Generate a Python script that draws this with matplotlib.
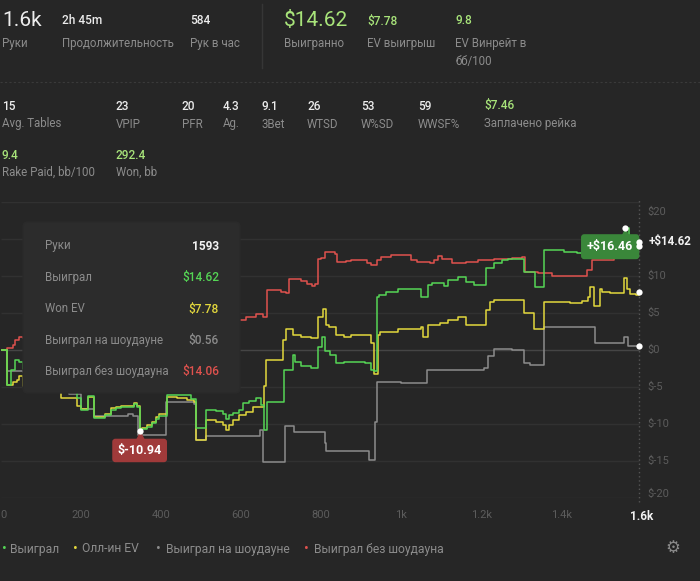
import matplotlib.pyplot as plt
import matplotlib.transforms as mtransforms
from matplotlib.patches import FancyBboxPatch
from matplotlib.lines import Line2D

plt.rcParams['font.family'] = ['Roboto', 'DejaVu Sans']

# --- data (hands played -> dollars) ---
green_hands = [0, 17, 25, 37, 45, 55, 120, 160, 190, 200, 218, 232, 260, 275, 288, 300, 333, 340,
               347, 352, 365, 378, 388, 395, 415, 475, 487, 512, 537, 555, 562, 570, 580, 595,
               605, 620, 637, 650, 657, 665, 708, 730, 735, 750, 775, 792, 803, 810, 822, 837,
               857, 910, 925, 932, 940, 945, 962, 992, 1050, 1067, 1075, 1107, 1117, 1142, 1162,
               1180, 1212, 1232, 1250, 1267, 1305, 1332, 1355, 1405, 1437, 1475, 1512, 1545,
               1558, 1567, 1582, 1593]
green_vals = [0.0, -4.7, -2.7, -1.35, -1.6, -2.5, -4.0, -5.5, -6.5, -8.1, -6.2, -9.2, -8.8, -8.1,
              -7.9, -7.7, -7.3, -7.7, -10.94, -10.7, -10.4, -9.9, -9.3, -8.9, -6.1, -6.6, -10.6,
              -8.1, -8.3, -8.6, -9.3, -8.8, -8.5, -8.1, -7.2, -6.9, -6.5, -7.4, -10.8, -7.0,
              -2.7, -0.7, -1.6, -2.2, -2.4, 0.4, 1.8, -0.2, -0.7, -1.8, -1.6, -1.7, -2.7, -2.9,
              7.2, 7.4, 7.8, 8.3, 7.2, 8.8, 9.0, 8.6, 9.5, 9.9, 9.2, 8.8, 11.1, 11.8, 12.2, 12.3,
              10.6, 8.5, 13.5, 13.3, 13.1, 13.4, 14.5, 15.2, 16.46, 14.9, 14.62, 14.62]

ev_hands = [0, 17, 30, 40, 45, 55, 100, 150, 190, 200, 218, 232, 260, 275, 288, 300, 333, 340,
            347, 352, 365, 378, 388, 395, 415, 440, 465, 482, 487, 512, 537, 555, 562, 570, 580,
            595, 612, 630, 657, 662, 705, 712, 730, 750, 775, 792, 805, 812, 820, 837, 857, 875,
            925, 932, 942, 947, 992, 1050, 1055, 1067, 1097, 1115, 1140, 1162, 1212, 1220, 1232,
            1250, 1305, 1330, 1355, 1420, 1450, 1465, 1470, 1480, 1495, 1500, 1520, 1555, 1562,
            1570, 1585, 1593]
ev_vals = [0.0, -4.7, -4.3, -4.0, -3.5, -4.8, -5.5, -6.5, -7.5, -8.0, -6.4, -9.0, -8.6, -7.9,
           -7.7, -7.6, -7.2, -7.6, -10.7, -10.5, -10.2, -9.7, -9.1, -8.7, -6.3, -6.5, -6.8, -7.0,
           -12.1, -9.5, -9.7, -10.2, -10.8, -10.2, -9.5, -8.8, -8.4, -7.7, -4.9, -1.3, 1.3, 2.9,
           2.0, 1.8, 1.6, 4.5, 5.5, 3.4, 3.1, 2.0, 1.7, 2.0, 0.9, -3.2, 2.0, 2.5, 2.9, 3.1, 1.8,
           3.4, 3.6, 4.0, 4.5, 3.4, 5.4, 6.5, 6.7, 6.8, 5.0, 2.9, 6.5, 6.4, 6.6, 7.2, 8.5, 6.0,
           8.3, 7.9, 7.7, 9.7, 8.2, 7.6, 7.4, 7.78]

sd_hands = [0, 17, 55, 120, 170, 200, 232, 318, 330, 343, 413, 482, 487, 512, 647, 655, 710,
            732, 810, 812, 920, 935, 940, 1000, 1065, 1205, 1217, 1232, 1275, 1305, 1320, 1355,
            1482, 1555, 1565, 1593]
sd_vals = [0.0, -2.9, -3.0, -4.5, -6.0, -8.0, -8.9, -8.6, -8.9, -11.5, -7.0, -7.3, -12.1, -11.6,
           -10.8, -15.1, -10.3, -11.1, -12.5, -13.6, -14.9, -9.7, -4.3, -4.4, -2.7, -2.4, -0.8,
           0.2, 0.0, -1.7, -2.0, 3.1, 1.0, 1.8, 0.56, 0.56]

nsd_hands = [0, 17, 30, 37, 45, 55, 100, 200, 300, 400, 500, 580, 600, 612, 637, 655, 665, 700,
             712, 720, 750, 765, 778, 785, 792, 800, 810, 835, 840, 862, 875, 915, 925, 940, 950,
             975, 1025, 1040, 1072, 1082, 1092, 1100, 1125, 1160, 1190, 1230, 1275, 1300, 1308,
             1340, 1375, 1462, 1475, 1530, 1560, 1580, 1593]
nsd_vals = [0.0, 0.3, 0.7, 1.35, 1.7, 1.6, 2.0, 2.5, 1.5, 3.0, 3.5, 4.0, 4.05, 4.5, 4.8, 4.4, 8.1,
            7.9, 7.7, 9.6, 9.3, 8.9, 8.6, 8.9, 12.3, 12.4, 13.3, 13.0, 11.9, 12.0, 12.1, 11.8,
            11.5, 12.2, 12.6, 12.8, 12.2, 11.9, 11.8, 12.2, 12.7, 12.3, 11.8, 11.9, 12.2, 12.3,
            12.4, 12.6, 10.5, 10.4, 10.0, 10.8, 12.2, 13.0, 13.5, 14.06, 14.06]

series_names = ['Выиграл', 'Олл-ин EV', 'Выиграл на шоудауне', 'Выиграл без шоудауна']
series_colors = ['#55d655', '#e3d83d', '#8c8c8c', '#e0524e']

y_grid = [-20, -15, -10, -5, 0, 5, 10, 15, 20]
y_labels = {20: '$20', 10: '$10', 5: '$5', 0: '$0', -5: '$-5', -10: '$-10', -15: '$-15', -20: '$-20'}
x_ticks = [0, 200, 400, 600, 800, 1000, 1200, 1400, 1600]
x_labels = ['0', '200', '400', '600', '800', '1k', '1.2k', '1.4k', '1.6k']

top_stats = [(2, '1.6k', 'Руки', 15, '#ececec'),
             (62, '2h 45m', 'Продолжительность', 8.6, '#ececec'),
             (190, '584', 'Рук в час', 8.6, '#ececec'),
             (284, '$14.62', 'Выигранно', 15, '#a8e47a'),
             (367, '$7.78', 'EV выигрыш', 8.6, '#a8e47a'),
             (455, '9.8', 'EV Винрейт в\nбб/100', 8.6, '#a8e47a')]
row2_stats = [(2, '15', 'Avg. Tables', '#ececec'), (116, '23', 'VPIP', '#ececec'),
              (182, '20', 'PFR', '#ececec'), (223, '4.3', 'Ag.', '#ececec'),
              (262, '9.1', '3Bet', '#ececec'), (307, '26', 'WTSD', '#ececec'),
              (361, '53', 'W%SD', '#ececec'), (418, '59', 'WWSF%', '#ececec'),
              (484, '$7.46', 'Заплачено рейка', '#a8e47a')]
row3_stats = [(2, '9.4', 'Rake Paid, bb/100', '#a8e47a'), (116, '292.4', 'Won, bb', '#a8e47a')]

BG = '#262626'
LABEL = '#8c8c8c'
W, H = 700, 581

fig = plt.figure(figsize=(W / 100, H / 100), dpi=100, facecolor=BG)


def fx(x):
    return x / W


def fy(y):
    return 1 - y / H


# header block
for x, val, lab, size, col in top_stats:
    fig.text(fx(x), fy(21), val, fontsize=size, color=col, va='center', ha='left',
             fontweight='medium' if size < 12 else 'normal')
    fig.text(fx(x), fy(36.5), lab, fontsize=8.3, color=LABEL, va='top', ha='left', linespacing=1.6)
for x, val, lab, col in row2_stats:
    fig.text(fx(x), fy(106), val, fontsize=8.6, color=col, va='center', ha='left', fontweight='medium')
    fig.text(fx(x), fy(124), lab, fontsize=8.3, color=LABEL, va='center', ha='left')
for x, val, lab, col in row3_stats:
    fig.text(fx(x), fy(155), val, fontsize=8.6, color=col, va='center', ha='left', fontweight='medium')
    fig.text(fx(x), fy(172), lab, fontsize=8.3, color=LABEL, va='center', ha='left')

fig.add_artist(Line2D([fx(262), fx(262)], [fy(4), fy(68)], color='#363636', lw=1))
fig.add_artist(Line2D([0, 1], [fy(82), fy(82)], color='#3a3a3a', lw=0.8, ls=(0, (2, 2))))

# chart
ax = fig.add_axes([fx(0.5), fy(498), 641.5 / W, 296 / H])
ax.set_facecolor(BG)
ax.set_xlim(0, 1600)
ax.set_ylim(-20, 20)
for s in ax.spines.values():
    s.set_visible(False)
ax.set_yticks([])

last_hand = green_hands[-1]
for v in y_grid:
    ax.hlines(v, 0, last_hand, colors='#454545' if v == 0 else '#313131', lw=1, zorder=1)
ax.vlines(last_hand, -20.5, 20.5, colors='#555555', lw=1, linestyles=(0, (1, 2)), zorder=1,
          clip_on=False)

all_hands = [sd_hands, nsd_hands, ev_hands, green_hands]
all_vals = [sd_vals, nsd_vals, ev_vals, green_vals]
all_cols = [series_colors[2], series_colors[3], series_colors[1], series_colors[0]]
for hh, vv, cc in zip(all_hands, all_vals, all_cols):
    ax.plot(hh, vv, drawstyle='steps-post', color=cc, lw=1.1, zorder=3)

ytrans = mtransforms.blended_transform_factory(ax.transAxes, ax.transData)
for v, lab in y_labels.items():
    if v == 15:
        continue
    shift = 0
    if v == 20:
        shift = -10
    elif v == -20:
        shift = 4
    tr = ytrans + mtransforms.ScaledTranslation(0, shift / 100, fig.dpi_scale_trans)
    ax.text(1.0085, v, lab, transform=tr, fontsize=8, color='#5c5c5c', va='center', ha='left',
            clip_on=False)

ax.set_xticks(x_ticks)
ax.set_xticklabels(x_labels, fontsize=8, color='#5c5c5c')
ax.tick_params(axis='x', length=0, pad=9)
tl = ax.get_xticklabels()
tl[0].set_ha('left')
tl[-1].set_color('#f2f2f2')
tl[-1].set_fontweight('bold')
tl[-1].set_fontsize(8.5)
tl[-1].set_ha('center')

# max / min markers
i_max = green_vals.index(max(green_vals))
i_min = green_vals.index(min(green_vals))
box_green = '#3a873a'
box_red = '#a03a3a'
pt = 72 / 100.0

ax.annotate(f"+${green_vals[i_max]:.2f}", xy=(green_hands[i_max], green_vals[i_max]),
            xytext=(-15 * pt, -18.5 * pt), textcoords='offset points', ha='center', va='center',
            color='white', fontsize=9, fontweight='bold', zorder=8, annotation_clip=False,
            bbox=dict(boxstyle='round,pad=0.48,rounding_size=0.25', fc=box_green, ec='none'))
ax.plot([green_hands[i_max]], [green_vals[i_max]], marker='^', ms=6, color=box_green, zorder=8,
        transform=ax.transData + mtransforms.ScaledTranslation(0, -5 / 100, fig.dpi_scale_trans))

ax.annotate(f"${green_vals[i_min]:.2f}", xy=(green_hands[i_min], green_vals[i_min]),
            xytext=(0, -19.5 * pt), textcoords='offset points', ha='center', va='center',
            color='white', fontsize=9, fontweight='bold', zorder=8, annotation_clip=False,
            bbox=dict(boxstyle='round,pad=0.42,rounding_size=0.25', fc=box_red, ec='none'))
ax.plot([green_hands[i_min]], [green_vals[i_min]], marker='^', ms=6, color=box_red, zorder=8,
        transform=ax.transData + mtransforms.ScaledTranslation(0, -5 / 100, fig.dpi_scale_trans))

ax.plot([green_hands[i_max], green_hands[i_min]], [green_vals[i_max], green_vals[i_min]], 'o',
        ms=4.5, color='white', mec='none', zorder=9, clip_on=False)
ax.plot([last_hand] * 4, [green_vals[-1], ev_vals[-1], sd_vals[-1], nsd_vals[-1]], 'o', ms=4.5,
        color='white', mec='none', zorder=9, clip_on=False)

ax.annotate(f"+${green_vals[-1]:.2f}", xy=(last_hand, green_vals[-1]), xytext=(6.5, 0.5),
            textcoords='offset points', ha='left', va='center', color='#f2f2f2', fontsize=8.4,
            fontweight='bold', annotation_clip=False, zorder=9)

# tooltip
ident = mtransforms.IdentityTransform()
tip = FancyBboxPatch((23, H - 393), 217, 171, boxstyle='round,pad=0,rounding_size=5',
                     fc='#2c2c2c', ec='#2a2a2a', lw=1, transform=ident, zorder=10)
fig.add_artist(tip)
tip_rows = [('Руки', str(last_hand), '#f2f2f2'),
            ('Выиграл', f"${green_vals[-1]:.2f}", series_colors[0]),
            ('Won EV', f"${ev_vals[-1]:.2f}", series_colors[1]),
            ('Выиграл на шоудауне', f"${sd_vals[-1]:.2f}", series_colors[2]),
            ('Выиграл без шоудауна', f"${nsd_vals[-1]:.2f}", series_colors[3])]
for k, (lab, val, col) in enumerate(tip_rows):
    yy = 246 + k * 31.5
    fig.text(fx(45), fy(yy), lab, fontsize=8.3, color=LABEL, va='center', ha='left', zorder=11)
    fig.text(fx(219), fy(yy), val, fontsize=8.6, color=col, va='center', ha='right', zorder=11,
             fontweight='bold' if k == 0 else 'medium')

# legend
leg_x = [(2, 10), (73, 82), (156, 166), (304, 314)]
for (dx, tx), name, col in zip(leg_x, series_names, series_colors):
    fig.text(fx(dx), fy(549), '•', fontsize=10, color=col, va='center', ha='left')
    fig.text(fx(tx), fy(549), name, fontsize=8.7, color=LABEL, va='center', ha='left')
fig.text(fx(673), fy(548), '⚙', fontsize=12, color='#8a8a8a', va='center', ha='center',
         family='DejaVu Sans')

fig.savefig('out.png', dpi=100, facecolor=BG)
